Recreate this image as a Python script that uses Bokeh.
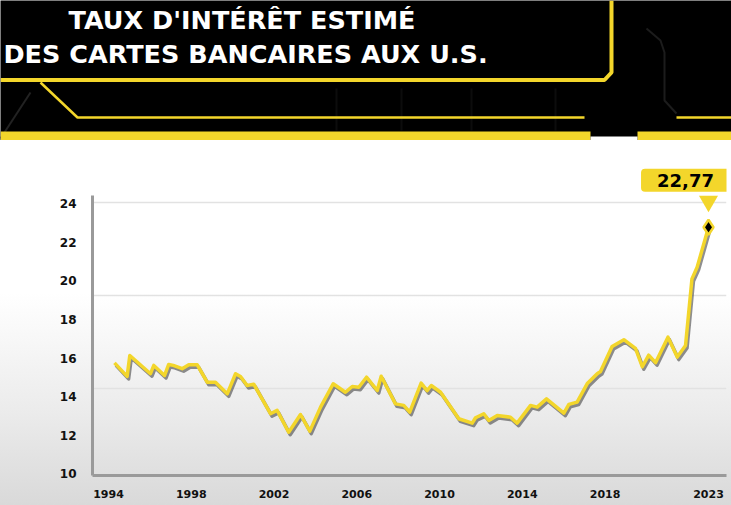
from bokeh.plotting import figure
from bokeh.models import Range1d, FixedTicker, Label
from bokeh.layouts import column
from bokeh.embed import file_html
from bokeh.resources import INLINE
from bokeh.core.properties import value

# ---------------- data ----------------
title_lines = ["TAUX D'INTÉRÊT ESTIMÉ", "DES CARTES BANCAIRES AUX U.S."]

years = [1994.29, 1994.90, 1995.03, 1996.03, 1996.19, 1996.71, 1996.91, 1997.13,
         1997.56, 1997.88, 1998.29, 1998.77, 1999.17, 1999.74, 2000.14, 2000.38,
         2000.70, 2001.02, 2001.83, 2002.15, 2002.71, 2003.28, 2003.73, 2004.25,
         2004.86, 2005.45, 2005.78, 2006.10, 2006.47, 2006.99, 2007.18, 2007.87,
         2008.27, 2008.56, 2009.11, 2009.40, 2009.60, 2010.05, 2010.93, 2011.58,
         2011.74, 2012.14, 2012.38, 2012.79, 2013.43, 2013.75, 2014.40, 2014.72,
         2015.17, 2016.01, 2016.25, 2016.65, 2017.14, 2017.62, 2017.78, 2018.34,
         2018.91, 2019.47, 2019.80, 2020.11, 2020.44, 2021.04, 2021.49, 2021.89,
         2022.20, 2022.45, 2023.00]

rates = [15.75, 15.05, 16.13, 15.19, 15.62, 15.10, 15.67, 15.62,
         15.45, 15.65, 15.65, 14.75, 14.75, 14.15, 15.19, 15.05,
         14.58, 14.65, 13.12, 13.29, 12.16, 13.08, 12.22, 13.46,
         14.67, 14.23, 14.53, 14.49, 15.01, 14.32, 15.06, 13.63,
         13.55, 13.20, 14.70, 14.32, 14.58, 14.23, 12.86, 12.63,
         12.91, 13.12, 12.77, 13.03, 12.94, 12.63, 13.55, 13.46,
         13.89, 13.15, 13.60, 13.72, 14.68, 15.19, 15.30, 16.60,
         16.95, 16.50, 15.55, 16.15, 15.76, 17.08, 16.05, 16.65,
         20.10, 20.70, 22.77]

x_tick_years = [1994, 1998, 2002, 2006, 2010, 2014, 2018, 2023]
y_tick_values = [10, 12, 14, 16, 18, 20, 22, 24]
grid_values = [14.45, 19.25, 24.05]

# ---------------- styling / geometry ----------------
YELLOW = "#f3d62b"
W = 731
HEADER_H = 140
CHART_H = 365
BORDER_L = 92
BORDER_R = 5
BORDER_B = 30
X0, X1 = 1993.227, 2023.87
Y0, Y1 = 9.922, 27.26
FONT = "DejaVu Sans"


def no_align(fig):
    try:
        fig.frame_align = False
    except Exception:
        pass


# ---------------- header ----------------
h = figure(width=W, height=HEADER_H, x_range=Range1d(0, W), y_range=Range1d(HEADER_H, 0),
           output_backend="svg", toolbar_location=None, tools="",
           x_axis_location=None, y_axis_location=None, min_border=0,
           outline_line_color=None, background_fill_color="black",
           border_fill_color="black")
h.xgrid.visible = False
h.ygrid.visible = False
no_align(h)

# faint dark circuit lines
h.line([0, 30], [138, 92], line_color="#222222", line_width=2)
for xv in [336, 401, 471, 555]:
    h.line([xv, xv], [88, 130], line_color="#0c0c0c", line_width=2)
h.line([646, 660, 664, 664, 676], [28, 40, 52, 100, 113], line_color="#1c1c1c", line_width=2)

# yellow frame lines
h.line([0, 604, 611, 611], [79.5, 79.5, 72, 0], line_color=YELLOW, line_width=4)
h.line([40, 77, 584], [82, 117, 117], line_color=YELLOW, line_width=2.5)
h.line([676, 740], [117, 117], line_color=YELLOW, line_width=2.5)
h.quad(left=[0, 637], right=[590, 740], top=[131, 131], bottom=[141, 141],
       fill_color=YELLOW, line_color=None)
h.quad(left=[590], right=[637], top=[136], bottom=[141], fill_color="white", line_color=None)

h.text(x=[241.5, 245], y=[19.5, 53], text=title_lines, text_font=value(FONT),
       text_font_style="bold", text_font_size="25.5px", text_color="white",
       text_align="center", text_baseline="alphabetic")

# ---------------- chart ----------------
p = figure(width=W, height=CHART_H, x_range=Range1d(X0, X1), y_range=Range1d(Y0, Y1),
           output_backend="svg", toolbar_location=None, tools="",
           min_border_left=BORDER_L, min_border_right=BORDER_R, min_border_top=0,
           min_border_bottom=BORDER_B, outline_line_color=None,
           background_fill_color=None, border_fill_color=None,
           styles={"background": "linear-gradient(to bottom, #ffffff 0%, #ffffff 42%, #ebebeb 75%, #d9d9d9 100%)"})
no_align(p)

p.xaxis.ticker = FixedTicker(ticks=x_tick_years)
p.yaxis.ticker = FixedTicker(ticks=y_tick_values)
p.yaxis.bounds = (Y0, 24.4)
for ax in (p.xaxis[0], p.yaxis[0]):
    ax.axis_line_color = "#9a9a9a"
    ax.axis_line_width = 3
    ax.major_tick_line_color = None
    ax.minor_tick_line_color = None
    ax.major_label_text_font = FONT
    ax.major_label_text_font_style = "bold"
    ax.major_label_text_color = "#111111"
p.xaxis.major_label_text_font_size = "11px"
p.yaxis.major_label_text_font_size = "12px"
p.xaxis.major_label_standoff = 8
p.yaxis.major_label_standoff = 10

p.xgrid.visible = False
p.ygrid.ticker = FixedTicker(ticks=grid_values)
p.ygrid.grid_line_color = "#e2e2e2"
p.ygrid.grid_line_width = 1.5

ppu_x = (W - BORDER_L - BORDER_R) / (X1 - X0)
ppu_y = (CHART_H - BORDER_B) / (Y1 - Y0)
p.extra_x_ranges = {"shadow_x": Range1d(X0 - 1.5 / ppu_x, X1 - 1.5 / ppu_x)}
p.extra_y_ranges = {"shadow_y": Range1d(Y0 + 2.5 / ppu_y, Y1 + 2.5 / ppu_y),
                    "callout_y": Range1d(Y0 - 26 / ppu_y, Y1 - 26 / ppu_y)}

p.line(years, rates, x_range_name="shadow_x", y_range_name="shadow_y",
       line_color="#444444", line_alpha=0.6, line_width=3.5, line_join="round")
p.line(years, rates, line_color=YELLOW, line_width=3.5, line_join="round")

p.scatter([years[-1]], [rates[-1]], y_range_name="callout_y", marker="inverted_triangle",
          size=19, fill_color=YELLOW, line_color=None)
p.scatter([years[-1]], [rates[-1]], marker="diamond", size=15, fill_color="black",
          line_color=YELLOW, line_width=2.5)

callout = Label(x=years[-1], y=rates[-1], x_offset=-23, y_offset=47,
                text=f"{rates[-1]:.2f}".replace(".", ","),
                text_font=FONT, text_font_style="bold", text_font_size="18px",
                text_color="black", text_align="center", text_baseline="middle",
                background_fill_color=YELLOW,
                padding=dict(top=5, right=16, bottom=5, left=16), border_radius=4)
p.add_layout(callout)

layout = column(h, p)
open("out.html", "w").write(file_html(layout, INLINE))
